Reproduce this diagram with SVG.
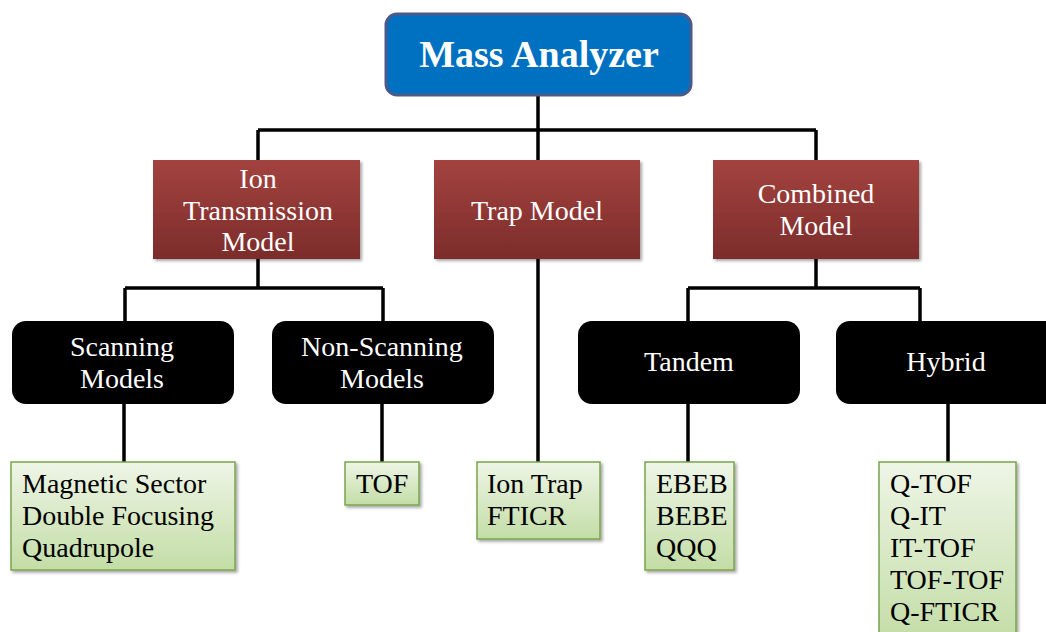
<svg xmlns="http://www.w3.org/2000/svg" width="1046" height="632" viewBox="0 0 1046 632">
<defs>
<linearGradient id="red" x1="0" y1="0" x2="0" y2="1">
<stop offset="0" stop-color="#A3433F"/>
<stop offset="1" stop-color="#7C2C2B"/>
</linearGradient>
<linearGradient id="green" x1="0" y1="0" x2="0" y2="1">
<stop offset="0" stop-color="#EEF5E6"/>
<stop offset="1" stop-color="#C3DDA6"/>
</linearGradient>
<filter id="sh" x="-10%" y="-10%" width="130%" height="130%">
<feDropShadow dx="2" dy="2" stdDeviation="1.5" flood-color="#000" flood-opacity="0.35"/>
</filter>
</defs>
<style>
text{font-family:"Liberation Serif","DejaVu Serif",serif;font-size:28px;text-anchor:middle}
.top{fill:#0070C0;stroke:#4A5A8A;stroke-width:3}
.top-t{fill:#fff;font-weight:bold;font-size:38px}
.red{fill:url(#red);filter:url(#sh)}
.red-t{fill:#fff}
.blk{fill:#000}
.blk-t{fill:#fff}
.grn{fill:url(#green);stroke:#7AA54C;stroke-width:1.5;filter:url(#sh)}
.grn-t{fill:#000;text-anchor:start}
.con{fill:none;stroke:#000;stroke-width:3.5}
</style>
<rect width="1046" height="632" fill="#fff"/>
<g id="connectors" class="con">
<path d="M538 96V130M258 130H816M258 130V160M538 130V160M816 130V160"/>
<path d="M258 259V288M125 288H383M125 288V321M383 288V321"/>
<path d="M538 259V462"/>
<path d="M816 259V288M688 288H920M688 288V321M920 288V321"/>
<path d="M124 404V462M382 404V462M688 404V462M948 404V462"/>
</g>
<g id="mass-analyzer">
<rect class="top" x="386" y="14" width="305" height="81" rx="11"/>
<text class="top-t" x="539" y="67">Mass Analyzer</text>
</g>
<g id="ion-transmission">
<rect class="red" x="153" y="160" width="207" height="99"/>
<text class="red-t" x="258" y="188">Ion</text>
<text class="red-t" x="258" y="220">Transmission</text>
<text class="red-t" x="258" y="251">Model</text>
</g>
<g id="trap-model">
<rect class="red" x="434" y="160" width="206" height="99"/>
<text class="red-t" x="537" y="220">Trap Model</text>
</g>
<g id="combined-model">
<rect class="red" x="713" y="160" width="206" height="99"/>
<text class="red-t" x="816" y="203">Combined</text>
<text class="red-t" x="816" y="235">Model</text>
</g>
<g id="scanning">
<rect class="blk" x="12" y="321" width="222" height="83" rx="14"/>
<text class="blk-t" x="122" y="356">Scanning</text>
<text class="blk-t" x="122" y="388">Models</text>
</g>
<g id="non-scanning">
<rect class="blk" x="272" y="321" width="222" height="83" rx="14"/>
<text class="blk-t" x="382" y="356">Non-Scanning</text>
<text class="blk-t" x="382" y="388">Models</text>
</g>
<g id="tandem">
<rect class="blk" x="578" y="321" width="222" height="83" rx="14"/>
<text class="blk-t" x="689" y="371">Tandem</text>
</g>
<g id="hybrid">
<rect class="blk" x="836" y="321" width="230" height="83" rx="14"/>
<text class="blk-t" x="946" y="371">Hybrid</text>
</g>
<g id="scanning-list">
<rect class="grn" x="11" y="462" width="224" height="108"/>
<text class="grn-t" x="22" y="493">Magnetic Sector</text>
<text class="grn-t" x="22" y="525">Double Focusing</text>
<text class="grn-t" x="22" y="557">Quadrupole</text>
</g>
<g id="tof">
<rect class="grn" x="345" y="462" width="74" height="43"/>
<text class="grn-t" x="356" y="493">TOF</text>
</g>
<g id="trap-list">
<rect class="grn" x="477" y="462" width="123" height="77"/>
<text class="grn-t" x="487" y="493">Ion Trap</text>
<text class="grn-t" x="487" y="525">FTICR</text>
</g>
<g id="tandem-list">
<rect class="grn" x="645" y="462" width="89" height="108"/>
<text class="grn-t" x="656" y="493">EBEB</text>
<text class="grn-t" x="656" y="525">BEBE</text>
<text class="grn-t" x="656" y="557">QQQ</text>
</g>
<g id="hybrid-list">
<rect class="grn" x="879" y="462" width="137" height="180"/>
<text class="grn-t" x="890" y="493">Q-TOF</text>
<text class="grn-t" x="890" y="525">Q-IT</text>
<text class="grn-t" x="890" y="557">IT-TOF</text>
<text class="grn-t" x="890" y="589">TOF-TOF</text>
<text class="grn-t" x="890" y="621">Q-FTICR</text>
</g>
</svg>
